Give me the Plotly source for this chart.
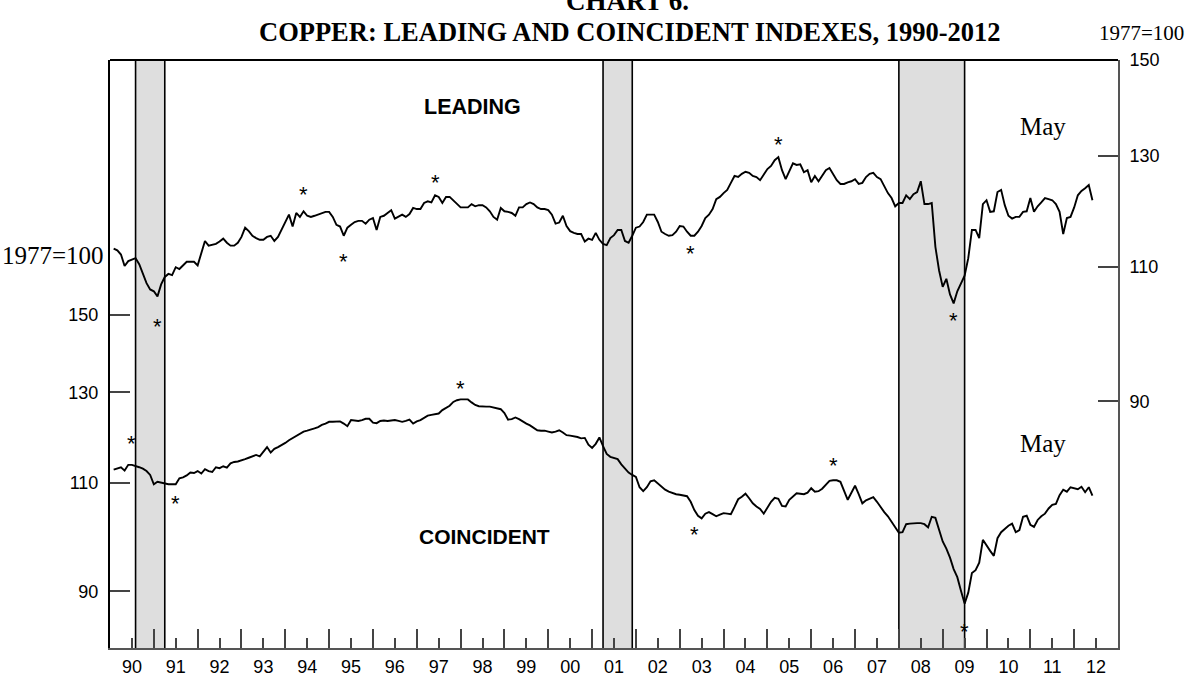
import math
import plotly.graph_objects as go

START_YEAR = 1990

# Leading index (right scale, 1977=100), monthly Jan 1990 - May 2012
leading = [
    113.1, 112.8, 112.1, 110.2, 111.0, 111.2, 111.5, 110.5, 109.0, 107.4, 106.4, 106.1,  # 1990
    105.3, 107.2, 108.4, 108.9, 108.7, 110.0, 109.7, 110.3, 110.9, 110.9, 110.9, 110.3,  # 1991
    112.4, 114.4, 113.6, 113.7, 113.9, 114.3, 114.8, 114.1, 113.6, 113.6, 114.1, 115.1,  # 1992
    116.7, 116.1, 115.3, 114.9, 114.6, 114.6, 115.1, 115.3, 114.4, 115.1, 116.3, 117.7,  # 1993
    119.0, 116.9, 119.3, 118.6, 119.6, 118.8, 118.6, 118.8, 119.0, 119.3, 119.5, 119.5,  # 1994
    118.6, 117.2, 116.9, 115.3, 116.7, 117.2, 117.7, 117.9, 117.9, 117.4, 118.1, 118.4,  # 1995
    116.3, 118.6, 118.8, 119.3, 119.8, 118.3, 118.6, 119.0, 118.6, 119.1, 120.2, 120.0,  # 1996
    120.0, 121.1, 121.4, 121.2, 122.5, 122.2, 121.1, 122.2, 122.2, 121.6, 120.9, 120.3,  # 1997
    120.3, 120.3, 120.9, 120.5, 120.7, 120.7, 120.3, 119.6, 118.6, 118.1, 120.2, 119.6,  # 1998
    119.5, 119.3, 118.8, 120.3, 120.3, 120.9, 121.2, 120.9, 120.3, 120.0, 120.0, 119.8,  # 1999
    119.0, 117.4, 117.6, 118.8, 117.0, 116.1, 115.8, 115.6, 115.6, 114.3, 114.8, 114.6,  # 2000
    115.8, 114.6, 113.9, 113.7, 114.9, 115.4, 116.3, 116.3, 114.4, 114.1, 115.3, 116.7,  # 2001
    116.9, 117.7, 119.0, 119.0, 119.0, 117.7, 116.0, 115.6, 115.3, 115.4, 116.0, 117.0,  # 2002
    116.9, 116.0, 115.3, 115.3, 116.0, 117.0, 118.4, 119.0, 120.0, 121.8, 122.2, 122.9,  # 2003
    123.5, 124.8, 126.1, 125.9, 126.5, 126.9, 126.7, 126.1, 125.9, 125.3, 126.3, 127.4,  # 2004
    128.0, 129.1, 129.7, 127.2, 125.5, 127.0, 128.5, 128.2, 128.3, 126.8, 127.2, 124.9,  # 2005
    126.1, 125.1, 126.1, 127.2, 127.6, 126.5, 125.3, 124.6, 124.6, 124.9, 125.1, 125.5,  # 2006
    124.6, 124.8, 125.9, 126.5, 126.7, 125.9, 125.5, 124.2, 122.9, 122.0, 120.5, 121.1,  # 2007
    121.1, 122.5, 121.8, 122.7, 123.1, 125.1, 120.9, 120.9, 121.1, 113.4, 109.5, 106.8,  # 2008
    108.1, 105.6, 104.2, 106.1, 107.4, 108.6, 111.5, 116.3, 116.3, 114.9, 120.9, 121.6,  # 2009
    119.5, 119.6, 123.1, 123.5, 120.7, 118.8, 118.3, 118.6, 118.6, 119.5, 119.6, 122.0,  # 2010
    119.5, 120.5, 121.2, 122.0, 121.8, 121.6, 120.9, 119.5, 115.6, 118.4, 118.6, 120.3,  # 2011
    122.5, 123.3, 123.8, 124.4, 121.6,                                                   # 2012
]

# Coincident index (left scale, 1977=100), monthly Jan 1990 - May 2012
coincident = [
    112.7, 112.9, 113.2, 112.5, 113.7, 113.7, 113.5, 113.2, 112.9, 112.4, 111.6, 109.7,  # 1990
    110.2, 110.0, 109.8, 109.7, 109.7, 109.7, 110.9, 111.1, 111.5, 112.1, 112.0, 112.4,  # 1991
    111.9, 112.8, 112.4, 112.2, 113.2, 113.0, 113.4, 113.1, 114.0, 114.3, 114.4, 114.6,  # 1992
    114.9, 115.2, 115.5, 115.8, 115.5, 116.4, 117.5, 116.3, 117.1, 117.5, 117.9, 118.4,  # 1993
    119.0, 119.5, 120.0, 120.5, 120.9, 121.1, 121.3, 121.6, 121.9, 122.4, 122.7, 123.1,  # 1994
    123.1, 123.1, 123.2, 122.7, 122.1, 123.5, 123.4, 123.3, 123.5, 123.8, 123.8, 122.9,  # 1995
    122.8, 123.3, 123.4, 123.3, 123.4, 123.5, 123.3, 123.1, 123.3, 123.6, 122.7, 123.2,  # 1996
    123.5, 124.0, 124.5, 124.7, 124.8, 125.0, 125.8, 126.3, 126.8, 127.7, 128.1, 128.3,  # 1997
    128.3, 128.3, 127.6, 127.0, 126.7, 126.6, 126.6, 126.6, 126.4, 126.2, 126.0, 125.1,  # 1998
    123.6, 123.7, 124.1, 123.7, 123.1, 122.7, 122.3, 121.7, 121.2, 121.1, 121.1, 120.9,  # 1999
    120.7, 120.9, 121.2, 120.7, 120.1, 120.0, 119.9, 119.7, 119.4, 119.5, 118.0, 117.3,  # 2000
    118.2, 119.6, 117.7, 116.0, 115.4, 115.1, 114.9, 113.8, 112.9, 112.1, 111.6, 111.2,  # 2001
    109.1, 108.3, 109.1, 110.3, 110.5, 109.8, 109.1, 108.6, 108.2, 107.9, 107.7, 107.6,  # 2002
    107.5, 107.3, 106.2, 104.6, 103.5, 103.0, 103.9, 104.2, 103.8, 103.4, 103.7, 104.0,  # 2003
    103.9, 103.8, 105.2, 106.7, 107.2, 107.8, 106.9, 105.9, 105.3, 104.8, 103.9, 105.0,  # 2004
    106.2, 107.0, 106.8, 105.4, 105.3, 106.6, 107.2, 107.9, 107.8, 107.7, 108.0, 108.9,  # 2005
    108.2, 108.3, 108.8, 109.7, 110.4, 110.5, 110.5, 110.2, 108.5, 106.6, 108.0, 109.4,  # 2006
    107.7, 105.9, 106.5, 106.8, 107.1, 106.2, 105.1, 104.2, 103.4, 102.4, 101.2, 100.3,  # 2007
    100.4, 101.9, 102.0, 102.1, 102.1, 102.1, 101.9, 101.3, 103.3, 103.1, 100.8, 98.7,   # 2008
    97.4, 95.8, 93.8, 92.4, 90.1, 88.0, 89.8, 93.1, 93.6, 94.9, 99.0, 97.9,              # 2009
    97.0, 96.1, 99.3, 100.4, 101.0, 101.6, 102.0, 100.4, 100.8, 103.3, 103.5, 101.8,     # 2010
    101.4, 102.7, 103.4, 103.9, 104.9, 105.6, 105.8, 107.5, 108.6, 108.2, 109.1, 108.9,  # 2011
    108.7, 109.2, 108.1, 109.1, 107.4,                                                   # 2012
]

# Recessions: (start year, start month, end year, end month)
recessions = [(1990, 7, 1991, 3), (2001, 3, 2001, 11), (2007, 12, 2009, 6)]

# Turning points marked with an asterisk: (series, year, month, gap from line in px; + above, - below)
turning_points = [
    ("leading", 1991, 1, -28), ("leading", 1994, 5, 19),
    ("leading", 1995, 4, -24), ("leading", 1997, 5, 15),
    ("leading", 2003, 3, -16), ("leading", 2005, 3, 15),
    ("leading", 2009, 3, -15),
    ("coincident", 1990, 6, 23), ("coincident", 1991, 6, -17),
    ("coincident", 1997, 12, 13), ("coincident", 2003, 4, -22),
    ("coincident", 2006, 6, 17), ("coincident", 2009, 6, -26),
]

year_labels = ["%02d" % (y % 100) for y in range(1990, 2013)]
axis_ticks = [90, 110, 130, 150]


def month_pos(year, month):
    return year + month / 12.0


x_vals = [START_YEAR + (i + 1) / 12.0 for i in range(len(leading))]

fig = go.Figure()

shapes = []
for (y0, m0, y1, m1) in recessions:
    xa, xb = month_pos(y0, m0), month_pos(y1, m1)
    shapes.append(dict(type="rect", xref="x", yref="paper", x0=xa, x1=xb, y0=0, y1=1,
                       fillcolor="#dedede", line=dict(width=0), layer="below"))
    for xx in (xa, xb):
        shapes.append(dict(type="line", xref="x", yref="paper", x0=xx, x1=xx, y0=0, y1=1,
                           line=dict(color="black", width=1.6), layer="below"))
shapes.append(dict(type="line", xref="paper", yref="paper", x0=0, x1=1, y0=1, y1=1,
                   line=dict(color="black", width=2)))

fig.add_trace(go.Scatter(x=x_vals, y=coincident, mode="lines", yaxis="y",
                         line=dict(color="black", width=1.9), showlegend=False,
                         name="Coincident"))
fig.add_trace(go.Scatter(x=x_vals, y=leading, mode="lines", yaxis="y2",
                         line=dict(color="black", width=1.9), showlegend=False,
                         name="Leading"))

ann = []
series_map = {"leading": (leading, "y2"), "coincident": (coincident, "y")}
for (s, yr, mo, gap) in turning_points:
    vals, yref = series_map[s]
    idx = (yr - START_YEAR) * 12 + (mo - 1)
    ann.append(dict(x=month_pos(yr, mo), y=math.log10(vals[idx]), xref="x", yref=yref,
                    text="*", showarrow=False, yshift=gap - 2,
                    font=dict(family="Liberation Sans, Arial", size=22, color="black")))


def txt(text, x, y, size, family, bold=False, xanchor="center"):
    return dict(text=("<b>%s</b>" % text) if bold else text, x=x, y=y,
                xref="paper", yref="paper", showarrow=False, xanchor=xanchor,
                yanchor="middle", font=dict(family=family, size=size, color="black"))


W0, W1, T0, T1 = 110, 1118, 60, 648
def px(xp):
    return (xp - W0) / (W1 - W0)
def py(yp):
    return (T1 - yp) / (T1 - T0)

SERIF = "Liberation Serif, Times New Roman"
SANS = "Liberation Sans, Arial"
ann += [
    txt("CHART 6.", px(627), py(1), 27, SERIF, bold=True),
    txt("COPPER: LEADING AND COINCIDENT INDEXES, 1990-2012", px(630), py(32), 26.5, SERIF, bold=True),
    txt("1977=100", px(1186), py(33), 21, SERIF, xanchor="right"),
    txt("1977=100", px(106), py(255), 25, SERIF, xanchor="right"),
    txt("LEADING", px(472), py(107), 21.5, SANS, bold=True),
    txt("COINCIDENT", px(484), py(536), 21, SANS, bold=True),
    txt("May", px(1043), py(127), 25, SERIF),
    txt("May", px(1043), py(443), 25, SERIF),
]

axis_font = dict(family=SANS, size=18, color="black")

fig.update_layout(
    template="none",
    width=1187, height=689,
    margin=dict(l=110, r=69, t=60, b=41, pad=0, autoexpand=False),
    paper_bgcolor="white", plot_bgcolor="white",
    shapes=shapes, annotations=ann, showlegend=False,
    xaxis=dict(range=[1990, 2013], tickmode="array", automargin=False,
               tickvals=[y + 0.5 for y in range(1990, 2013)], ticktext=year_labels,
               ticks="inside", ticklen=10, tickwidth=1.5, tickcolor="#444",
               tickfont=axis_font, showgrid=False, zeroline=False,
               showline=True, linecolor="#555", linewidth=2,
               ticklabelstandoff=1,
               minor=dict(tickmode="array", tickvals=list(range(1991, 2013)),
                          ticks="inside", ticklen=19, tickwidth=1.5, tickcolor="#444",
                          showgrid=False)),
    yaxis=dict(type="log", range=[1.90889, 2.3804], tickmode="array", automargin=False,
               tickvals=axis_ticks, ticktext=[str(v) for v in axis_ticks],
               ticks="inside", ticklen=20, tickwidth=1.5, tickcolor="#444",
               tickfont=axis_font, showgrid=False, zeroline=False,
               showline=True, linecolor="black", linewidth=2, ticklabelstandoff=6),
    yaxis2=dict(type="log", range=[1.79379, 2.1761], overlaying="y", side="right",
                automargin=False,
                tickmode="array", tickvals=axis_ticks, ticktext=[str(v) for v in axis_ticks],
                ticks="inside", ticklen=20, tickwidth=1.5, tickcolor="#444",
                tickfont=axis_font, showgrid=False, zeroline=False,
                showline=True, linecolor="#555", linewidth=2, ticklabelstandoff=6),
)

fig.write_html("out.html", config={"displayModeBar": False},
               post_script="document.body.style.margin='0';document.body.style.padding='0';")
